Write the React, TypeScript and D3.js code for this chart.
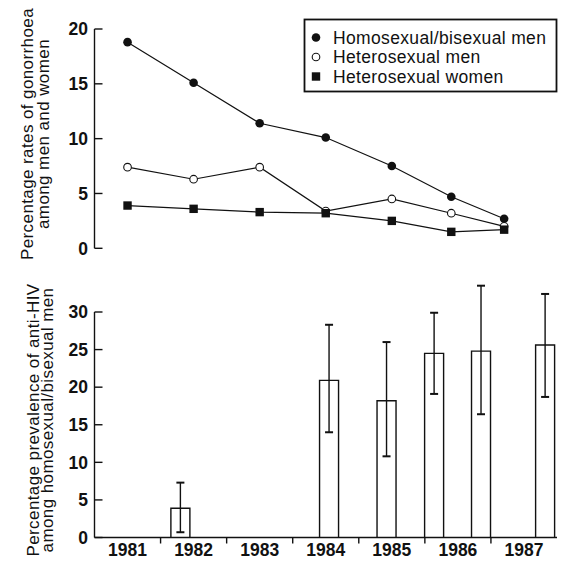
import React from "react";
import * as d3 from "d3";

// ---- Data ----
const sampleYears = [1981.5, 1982.5, 1983.5, 1984.5, 1985.5, 1986.4, 1987.2];
const homoBiMen = [18.8, 15.1, 11.4, 10.1, 7.5, 4.7, 2.7];
const heteroMen = [7.4, 6.3, 7.4, 3.4, 4.5, 3.2, 2.0];
const heteroWomen = [3.9, 3.6, 3.3, 3.2, 2.5, 1.5, 1.7];

const hivSampleYears = [1982.3, 1984.55, 1985.42, 1986.14, 1986.85, 1987.82];
const hivPrevalence = [3.9, 20.9, 18.2, 24.5, 24.8, 25.6];
const hivLower = [0.7, 14.0, 10.8, 19.1, 16.4, 18.7];
const hivUpper = [7.3, 28.3, 26.0, 29.9, 33.5, 32.4];

const yearLabels = ["1981", "1982", "1983", "1984", "1985", "1986", "1987"];
const topTicks = [0, 5, 10, 15, 20];
const bottomTicks = [0, 5, 10, 15, 20, 25, 30];

const legendLabels = ["Homosexual/bisexual men", "Heterosexual men", "Heterosexual women"];

const W = 565;
const H = 562;
const INK = "#111";
const FONT = "'Liberation Sans', Arial, Helvetica, sans-serif";

export default function App() {
  const axisX = 94.5;
  const xYear = d3.scaleLinear().domain([1981, 1988]).range([axisX, 557]);
  const yTop = d3.scaleLinear().domain([0, 20]).range([248.3, 29]);
  const yBot = d3.scaleLinear().domain([0, 30]).range([537.5, 312]);

  const line = d3
    .line<[number, number]>()
    .x((d) => xYear(d[0]))
    .y((d) => yTop(d[1]));

  const series = [homoBiMen, heteroMen, heteroWomen];
  const barW = 19;
  const capW = 8;

  const marker = (kind: number, cx: number, cy: number, key: string) => {
    if (kind === 0) return <circle key={key} cx={cx} cy={cy} r={4.3} fill={INK} />;
    if (kind === 1)
      return <circle key={key} cx={cx} cy={cy} r={3.8} fill="#fff" stroke={INK} strokeWidth={1.1} />;
    return <rect key={key} x={cx - 4.2} y={cy - 4.2} width={8.4} height={8.4} fill={INK} />;
  };

  const titleProps = {
    textAnchor: "middle" as const,
    fontSize: 17,
    letterSpacing: 0.4,
    fill: INK,
    dy: "0.35em",
  };

  return (
    <svg
      width={W}
      height={H}
      style={{ position: "absolute", left: 0, top: 0, background: "#fff" }}
      fontFamily={FONT}
    >
      <rect x={0} y={0} width={W} height={H} fill="#fff" />

      {/* ---- Top panel ---- */}
      <line x1={axisX} x2={axisX} y1={yTop(20)} y2={yTop(0)} stroke={INK} strokeWidth={1.4} />
      {topTicks.map((t) => (
        <g key={"tt" + t}>
          <line x1={axisX} x2={axisX + 8} y1={yTop(t)} y2={yTop(t)} stroke={INK} strokeWidth={1.4} />
          <text
            x={88}
            y={yTop(t)}
            dy="0.36em"
            textAnchor="end"
            fontSize={17.5}
            fontWeight="bold"
            fill={INK}
          >
            {t}
          </text>
        </g>
      ))}
      <text transform={`translate(27,134) rotate(-90)`} {...titleProps}>
        Percentage rates of gonorrhoea
      </text>
      <text transform={`translate(43,134) rotate(-90)`} {...titleProps}>
        among men and women
      </text>

      {series.map((s, si) => (
        <path
          key={"ln" + si}
          d={line(s.map((v, i) => [sampleYears[i], v] as [number, number])) || ""}
          fill="none"
          stroke={INK}
          strokeWidth={1.2}
        />
      ))}
      {series.map((s, si) =>
        s.map((v, i) => marker(si, xYear(sampleYears[i]), yTop(v), `m${si}-${i}`))
      )}

      {/* Legend */}
      <rect x={304.5} y={19.5} width={252} height={72} fill="#fff" stroke={INK} strokeWidth={1.8} />
      {legendLabels.map((lab, i) => {
        const cy = 37.5 + i * 19.5;
        return (
          <g key={"lg" + i}>
            {marker(i, 316, cy, "lm" + i)}
            <text x={333} y={cy} dy="0.36em" fontSize={17.5} letterSpacing={0.35} fill={INK}>
              {lab}
            </text>
          </g>
        );
      })}

      {/* ---- Bottom panel ---- */}
      <line x1={axisX} x2={axisX} y1={yBot(30)} y2={yBot(0)} stroke={INK} strokeWidth={1.4} />
      <line x1={axisX} x2={xYear(1988)} y1={yBot(0)} y2={yBot(0)} stroke={INK} strokeWidth={1.6} />
      {bottomTicks.map((t) => (
        <g key={"bt" + t}>
          <line x1={axisX} x2={axisX + 8} y1={yBot(t)} y2={yBot(t)} stroke={INK} strokeWidth={1.4} />
          <text
            x={88}
            y={yBot(t)}
            dy="0.36em"
            textAnchor="end"
            fontSize={17.5}
            fontWeight="bold"
            fill={INK}
          >
            {t}
          </text>
        </g>
      ))}
      {yearLabels.map((lab, i) => {
        const yr = 1981 + i;
        return (
          <g key={"yl" + lab}>
            {i > 0 && (
              <line
                x1={xYear(yr)}
                x2={xYear(yr)}
                y1={yBot(0)}
                y2={yBot(0) + 6}
                stroke={INK}
                strokeWidth={1.4}
              />
            )}
            <text
              x={xYear(yr + 0.5)}
              y={555.5}
              textAnchor="middle"
              fontSize={17.5}
              fontWeight="bold"
              fill={INK}
            >
              {lab}
            </text>
          </g>
        );
      })}
      <text transform={`translate(33,420) rotate(-90)`} {...titleProps}>
        Percentage prevalence of anti-HIV
      </text>
      <text transform={`translate(47,420) rotate(-90)`} {...titleProps}>
        among homosexual/bisexual men
      </text>

      {hivPrevalence.map((v, i) => {
        const cx = xYear(hivSampleYears[i]);
        return (
          <g key={"bar" + i}>
            <path
              d={`M${cx - barW / 2},${yBot(0)}V${yBot(v)}H${cx + barW / 2}V${yBot(0)}`}
              fill="none"
              stroke={INK}
              strokeWidth={1.4}
            />
            <line x1={cx} x2={cx} y1={yBot(hivLower[i])} y2={yBot(hivUpper[i])} stroke={INK} strokeWidth={1.4} />
            <line
              x1={cx - capW / 2}
              x2={cx + capW / 2}
              y1={yBot(hivLower[i])}
              y2={yBot(hivLower[i])}
              stroke={INK}
              strokeWidth={2}
            />
            <line
              x1={cx - capW / 2}
              x2={cx + capW / 2}
              y1={yBot(hivUpper[i])}
              y2={yBot(hivUpper[i])}
              stroke={INK}
              strokeWidth={2}
            />
          </g>
        );
      })}
    </svg>
  );
}
